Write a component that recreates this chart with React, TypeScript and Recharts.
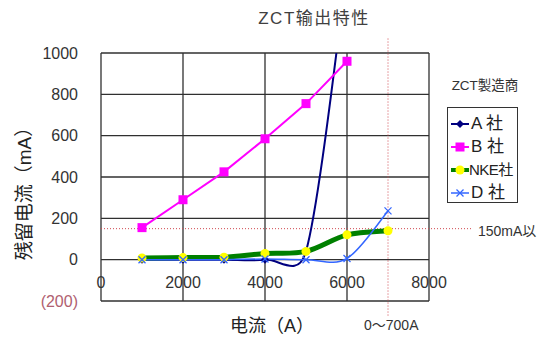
import { LineChart, Line, XAxis, YAxis, CartesianGrid, ReferenceLine, Legend } from "recharts";

// Output characteristic of ZCTs from four makers (residual current vs. primary current)
const currents = [1000, 2000, 3000, 4000, 5000, 6000, 7000];
const makerA = [0, 0, 0, 0, 40, 1400, null];
const makerB = [155, 290, 425, 585, 755, 960, null];
const makerNKE = [8, 10, 12, 30, 40, 120, 140];
const makerD = [0, 0, 0, 3, 0, 6, 236];

const xTicks = [0, 2000, 4000, 6000, 8000];
const yTicks = [-200, 0, 200, 400, 600, 800, 1000];

// limit lines
const limitMA = 150;
const ratedA = 7000;

const rows = currents.map((c, i) => ({
    current: c,
    A: makerA[i],
    B: makerB[i],
    NKE: makerNKE[i],
    D: makerD[i],
}));

const FONT = '"Liberation Sans", "Noto Sans CJK JP", sans-serif';

// Smoothed path: bezier segments whose tangents come from the neighbouring points
// (1/6 of the chord), with the arm kept short on short segments next to steep ones.
const smoothCurve = (context: any) => {
    let pts: number[][] = [];
    return {
        areaStart() {},
        areaEnd() {},
        lineStart() { pts = []; },
        point(x: number, y: number) { pts.push([+x, +y]); },
        lineEnd() {
            const n = pts.length;
            if (!n) return;
            context.moveTo(pts[0][0], pts[0][1]);
            const arm = (i: number, seg: number) => {
                const a = pts[Math.max(i - 1, 0)];
                const b = pts[Math.min(i + 1, n - 1)];
                let dx = (b[0] - a[0]) / 6;
                let dy = (b[1] - a[1]) / 6;
                const len = Math.hypot(dx, dy);
                const cap = 0.7 * seg;
                if (len > cap && len > 0) { dx *= cap / len; dy *= cap / len; }
                return [dx, dy];
            };
            for (let i = 0; i < n - 1; i++) {
                const p = pts[i], q = pts[i + 1];
                const seg = Math.hypot(q[0] - p[0], q[1] - p[1]);
                const [ax, ay] = arm(i, seg);
                const [bx, by] = arm(i + 1, seg);
                context.bezierCurveTo(p[0] + ax, p[1] + ay, q[0] - bx, q[1] - by, q[0], q[1]);
            }
        },
    };
};

const SERIES = [
    { key: "A", label: "A 社", color: "#000080", width: 2, marker: "diamond", fill: "#000080", curve: smoothCurve },
    { key: "B", label: "B 社", color: "#FF00FF", width: 2, marker: "square", fill: "#FF00FF", curve: "linear" },
    { key: "NKE", label: "NKE社", color: "#008000", width: 5, marker: "circle", fill: "#FFFF00", curve: smoothCurve },
    { key: "D", label: "D 社", color: "#3366FF", width: 1.5, marker: "cross", fill: "#3366FF", curve: smoothCurve },
];

function Marker({ cx, cy, kind, fill }: { cx: number; cy: number; kind: string; fill: string }) {
    if (kind === "diamond") return <polygon points={`${cx},${cy - 4} ${cx + 4},${cy} ${cx},${cy + 4} ${cx - 4},${cy}`} fill={fill} />;
    if (kind === "square") return <rect x={cx - 4.5} y={cy - 4.5} width={9} height={9} fill={fill} />;
    if (kind === "circle") return <circle cx={cx} cy={cy} r={4.5} fill={fill} />;
    return (
        <path d={`M${cx - 3.5},${cy - 3.5}L${cx + 3.5},${cy + 3.5}M${cx - 3.5},${cy + 3.5}L${cx + 3.5},${cy - 3.5}`}
            stroke={fill} strokeWidth={1.3} />
    );
}

const makeDot = (kind: string, fill: string, key: string) => (props: any) => {
    const { cx, cy, index } = props;
    if (cx == null || cy == null || props.value == null) return <g key={`${key}-${index}`} />;
    return <g key={`${key}-${index}`}><Marker cx={cx} cy={cy} kind={kind} fill={fill} /></g>;
};

const YTick = (props: any) => {
    const { x, y, payload } = props;
    const v = payload.value;
    return (
        <text x={x} y={y} textAnchor="end" dominantBaseline="central" fontSize={16} fontFamily={FONT}
            fill={v < 0 ? "#B06070" : "#333"}>
            {v < 0 ? `(${-v})` : v}
        </text>
    );
};

// x labels sit just under the zero line, inside the plot
const XTick = (props: any) => {
    const { x, y, payload } = props;
    return (
        <text x={x} y={y - 27} textAnchor="middle" dominantBaseline="central" fontSize={16} fontFamily={FONT} fill="#333">
            {payload.value}
        </text>
    );
};

const LegendBox = () => (
    <div style={{ position: "relative", border: "1px solid #333", background: "#fff", width: 69, height: 94, boxSizing: "content-box", fontFamily: FONT, color: "#222" }}>
        {SERIES.map((s, i) => (
            <div key={s.key} style={{ position: "absolute", left: 3, top: 6 + i * 23, height: 20, display: "flex", alignItems: "center" }}>
                <svg width={18} height={12}>
                    <line x1={0} y1={6} x2={18} y2={6} stroke={s.color} strokeWidth={Math.min(s.width, 4)} />
                    <Marker cx={9} cy={6} kind={s.marker} fill={s.fill} />
                </svg>
                <span style={{ fontSize: s.key === "NKE" ? 15 : 17, marginLeft: s.key === "NKE" ? 0 : 2, letterSpacing: s.key === "NKE" ? -0.5 : 0, whiteSpace: "nowrap", lineHeight: "20px" }}>
                    {s.label}
                </span>
            </div>
        ))}
    </div>
);

export default function App() {
    return (
        <div style={{ position: "absolute", left: 0, top: 0, width: 549, height: 337, background: "#fff" }}>
            <LineChart width={549} height={337} data={rows} margin={{ top: 53, right: 120, bottom: 16, left: 0 }}>
                <CartesianGrid stroke="#303030" strokeWidth={1.3} horizontalValues={yTicks} verticalValues={xTicks} />
                <XAxis dataKey="current" type="number" domain={[0, 8000]} ticks={xTicks} height={20}
                    axisLine={false} tickLine={false} tick={<XTick />} interval={0} />
                <YAxis type="number" domain={[-200, 1000]} ticks={yTicks} width={101} allowDataOverflow
                    axisLine={false} tickLine={false} tick={<YTick />} tickMargin={17} interval={0} />
                <ReferenceLine segment={[{ x: 0, y: limitMA }, { x: 9040, y: limitMA }]} ifOverflow="visible"
                    stroke="#D04850" strokeWidth={1} strokeDasharray="1 2" />
                <ReferenceLine segment={[{ x: ratedA, y: 1070 }, { x: ratedA, y: -280 }]} ifOverflow="visible"
                    stroke="#D04850" strokeWidth={1} strokeDasharray="1 2" />
                {SERIES.map((s) => (
                    <Line key={s.key} dataKey={s.key} name={s.label} type={s.curve as any} stroke={s.color}
                        strokeWidth={s.width} dot={makeDot(s.marker, s.fill, s.key)} activeDot={false}
                        isAnimationActive={false} />
                ))}
                <Legend content={<LegendBox />} layout="horizontal" align="center" verticalAlign="middle"
                    wrapperStyle={{ left: 447, top: 107, width: 71, height: 96 }} />
            </LineChart>
            <svg width={549} height={337} style={{ position: "absolute", left: 0, top: 0, pointerEvents: "none" }} fontFamily={FONT}>
                <text x={314} y={18} textAnchor="middle" dominantBaseline="central" fontSize={17} letterSpacing={1.5} fill="#404040">
                    ZCT输出特性
                </text>
                <text x={24} y={189} textAnchor="middle" dominantBaseline="central" fontSize={19} fill="#222"
                    transform="rotate(-90 24 189)">
                    残留电流（mA）
                </text>
                <text x={272} y={326} textAnchor="middle" dominantBaseline="central" fontSize={18} fill="#222">
                    电流（A）
                </text>
                <text x={478} y={231} dominantBaseline="central" fontSize={14} fill="#333">150mA以</text>
                <text x={364} y={325} dominantBaseline="central" fontSize={14} fill="#333">0～700A</text>
                <text x={485} y={85} textAnchor="middle" dominantBaseline="central" fontSize={13.5} fill="#333">ZCT製造商</text>
            </svg>
        </div>
    );
}
